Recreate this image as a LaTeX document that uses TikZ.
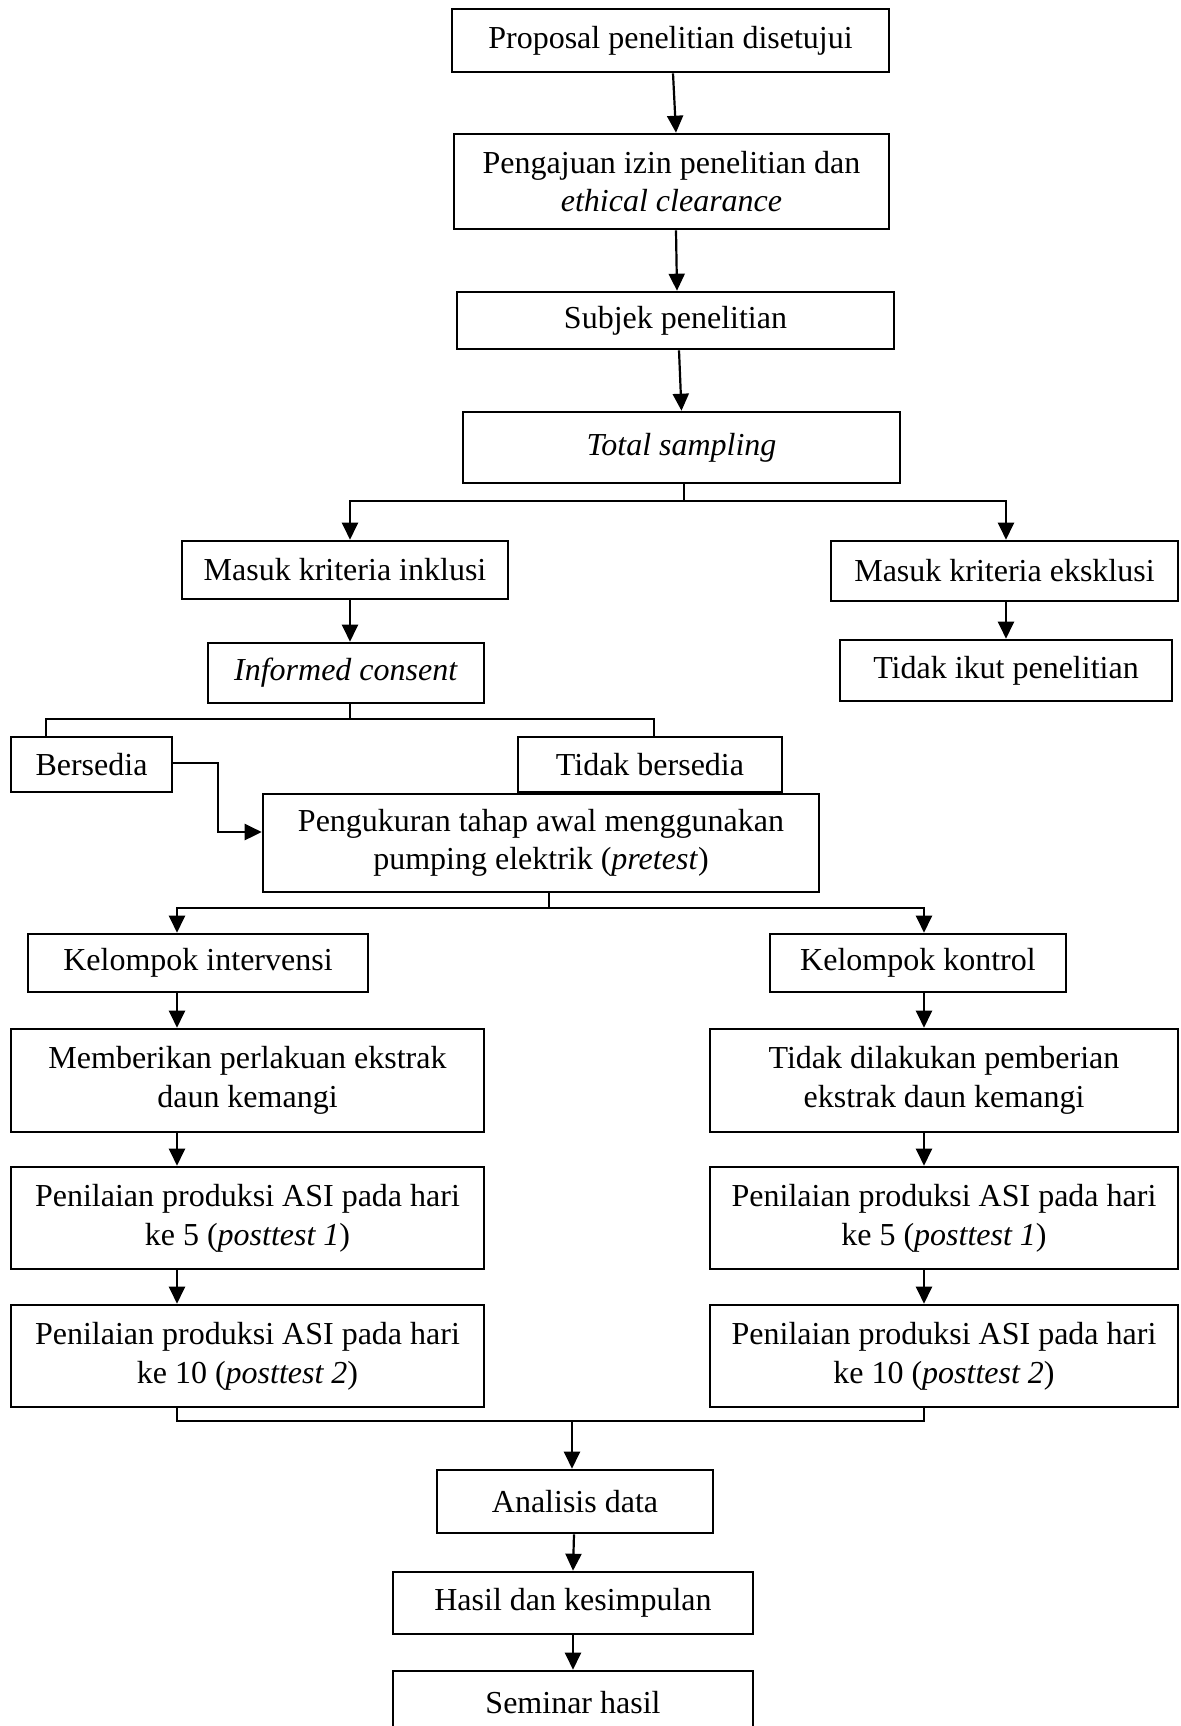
\documentclass[tikz,border=0pt]{standalone}
\usepackage{fontspec}
\setmainfont{Liberation Serif}
\usetikzlibrary{arrows.meta,calc}
\tikzset{
  box/.style={draw, line width=1.3pt, inner sep=0pt, align=center, font=\fontsize{16}{19.3}\selectfont},
  conn/.style={line width=1.1pt},
  arr/.style={line width=1.1pt, -{Triangle[length=8.5pt,width=8pt]}}
}
\newcommand{\bx}[6]{\node[box, minimum width={(#4-#2)*0.5pt}, minimum height={(#5-#3)*0.5pt}] (#1) at ({(#2+#4)/2},{(#3+#5)/2}) {#6};}
\begin{document}
\begin{tikzpicture}[x=0.5pt,y=-0.5pt]
\useasboundingbox (0,0) rectangle (1180,1726);
\clip (0,0) rectangle (1180,1726);
\fill[white] (0,0) rectangle (1180,1726);
% boxes
\bx{b1}{452}{9}{889}{72}{Proposal penelitian disetujui}
\bx{b2}{454}{134}{889}{229}{Pengajuan izin penelitian dan\\\textit{ethical clearance}}
\bx{b3}{457}{292}{894}{349}{Subjek penelitian}
\bx{ts}{463}{412}{900}{483}{\textit{Total sampling}}
\bx{incl}{182}{541}{508}{599}{Masuk kriteria inklusi}
\bx{excl}{831}{541}{1178}{601}{Masuk kriteria eksklusi}
\bx{ic}{208}{643}{484}{703}{\textit{Informed consent}}
\bx{tik}{840}{640}{1172}{701}{Tidak ikut penelitian}
\bx{bers}{11}{737}{172}{792}{Bersedia}
\bx{tb}{518}{737}{782}{792}{Tidak bersedia}
\bx{pre}{263}{794}{819}{892}{Pengukuran tahap awal menggunakan\\pumping elektrik (\textit{pretest})}
\bx{ki}{28}{934}{368}{992}{Kelompok intervensi}
\bx{kk}{770}{934}{1066}{992}{Kelompok kontrol}
\bx{meml}{11}{1029}{484}{1132}{Memberikan perlakuan ekstrak\\daun kemangi}
\bx{memr}{710}{1029}{1178}{1132}{Tidak dilakukan pemberian\\ekstrak daun kemangi}
\bx{p5l}{11}{1167}{484}{1269}{Penilaian produksi ASI pada hari\\ke 5 (\textit{posttest 1})}
\bx{p5r}{710}{1167}{1178}{1269}{Penilaian produksi ASI pada hari\\ke 5 (\textit{posttest 1})}
\bx{p10l}{11}{1305}{484}{1407}{Penilaian produksi ASI pada hari\\ke 10 (\textit{posttest 2})}
\bx{p10r}{710}{1305}{1178}{1407}{Penilaian produksi ASI pada hari\\ke 10 (\textit{posttest 2})}
\bx{ana}{437}{1470}{713}{1533}{Analisis data}
\bx{has}{393}{1572}{753}{1634}{Hasil dan kesimpulan}
\bx{sem}{393}{1671}{753}{1735}{Seminar hasil}
% top chain
\draw[arr] ([xshift=1.25pt]b1.south) -- ([xshift=2.25pt]b2.north);
\draw[arr] ([xshift=2.25pt]b2.south) -- ([xshift=0.75pt]b3.north);
\draw[arr] ([xshift=1.75pt]b3.south) -- (ts.north);
% split 1
\coordinate (j1) at (684,501);
\coordinate (cI) at (350,0);
\coordinate (cE) at (1006,0);
\draw[conn] (ts.south -| j1) -- (j1);
\draw[arr] (j1) -- (cI |- j1) -- (incl.north -| cI);
\draw[arr] (j1) -- (cE |- j1) -- (excl.north -| cE);
\draw[arr] (incl.south -| cI) -- (ic.north -| cI);
\draw[arr] (excl.south -| cE) -- (tik.north -| cE);
% split 2
\coordinate (j2) at (350,719);
\coordinate (cB) at (46,0);
\coordinate (cT) at (654,0);
\draw[conn] (ic.south -| j2) -- (j2);
\draw[conn] (bers.north -| cB) -- (cB |- j2) -- (cT |- j2) -- (tb.north -| cT);
% bersedia to pretest
\draw[line width=1.3pt, -{Triangle[length=8.5pt,width=8pt]}] ([yshift=0.75pt]bers.east) -- (218,763) |- ([yshift=5.5pt]pre.west);
% split 3
\coordinate (j3) at (549,908);
\coordinate (cl) at (177,0);
\coordinate (cr) at (924,0);
\draw[conn] (pre.south -| j3) -- (j3);
\draw[arr] (j3) -- (cl |- j3) -- (ki.north -| cl);
\draw[arr] (j3) -- (cr |- j3) -- (kk.north -| cr);
% columns
\draw[arr] (ki.south -| cl) -- (meml.north -| cl);
\draw[arr] (meml.south -| cl) -- (p5l.north -| cl);
\draw[arr] (p5l.south -| cl) -- (p10l.north -| cl);
\draw[arr] (kk.south -| cr) -- (memr.north -| cr);
\draw[arr] (memr.south -| cr) -- (p5r.north -| cr);
\draw[arr] (p5r.south -| cr) -- (p10r.north -| cr);
% merge
\coordinate (j4) at (572,1421);
\draw[line width=1.3pt] (p10l.south -| cl) -- (cl |- j4) -- (cr |- j4) -- (p10r.south -| cr);
\draw[arr] (j4) -- (ana.north -| j4);
\draw[arr] ([xshift=-0.5pt]ana.south) -- (has.north);
\draw[arr] (has.south) -- (sem.north);
\end{tikzpicture}
\end{document}
